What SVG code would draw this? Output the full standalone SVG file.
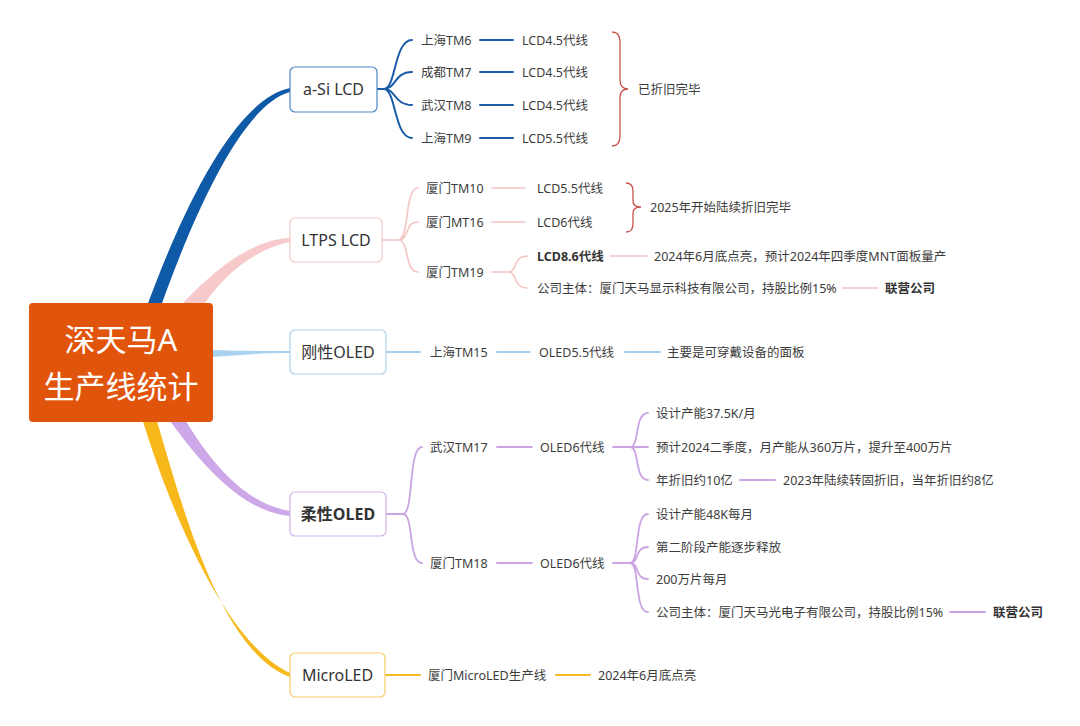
<svg xmlns="http://www.w3.org/2000/svg" width="1080" height="726" viewBox="0 0 1080 726">
<style>
text{font-family:"Noto Sans","Noto Sans CJK SC",sans-serif;fill:#3c3c3c;dominant-baseline:central}
.leaf{font-size:12.5px}
.b{font-weight:bold;fill:#333}
.nt{font-size:16px;text-anchor:middle;fill:#333}
.root{font-size:31px;fill:#fff;text-anchor:middle}
.c{fill:none;stroke-linecap:round}
.blue{stroke:#1A5DA6;stroke-width:2}
.pink{stroke:#F5C4C4;stroke-width:1.6}
.lblue{stroke:#A6CFEF;stroke-width:1.8}
.purple{stroke:#CBA4E4;stroke-width:1.8}
.yellow{stroke:#F6BA22;stroke-width:2}
.brace{fill:none;stroke:#C9524C;stroke-width:1.3}
.node{fill:#fff;stroke-width:1.2}
</style>
<rect width="1080" height="726" fill="#fff"/>
<g id="connectors">
<!-- main tapered branches -->
<path d="M147 306 C175 230 230 100 290 88 L290 92 C240 105 190 225 161 306 Z" fill="#0F5AA6"/>
<path d="M180 306 C205 280 245 240 290 238 L290 242 C250 250 220 280 203 306 Z" fill="#F7C9CA"/>
<path d="M210 350 C240 351 262 351 290 351 L290 353 C262 353 240 355 210 357 Z" fill="#A9D2F1"/>
<path d="M184 418 C215 470 250 505 290 511 L290 516 C245 512 205 470 168 418 Z" fill="#CDA8E8"/>
<path d="M142 418 C165 495 222 642 290 673 L290 677 C218 652 178 490 156 418 Z" fill="#F7B81C"/>
<!-- a-Si LCD -->
<path class="c blue" d="M377 89 H384 M384 89 C396 89 394 40 412 40 M384 89 C396 89 394 72 412 72 M384 89 C396 89 394 105 412 105 M384 89 C396 89 394 138 412 138"/>
<path class="c blue" d="M480 40 H513 M480 72 H513 M480 105 H513 M480 138 H513"/>
<path class="brace" d="M612 32 Q620 32 620 42 L620 80 Q620 89 628 89 Q620 89 620 98 L620 136 Q620 146 612 146"/>
<!-- LTPS LCD -->
<path class="c pink" d="M382 240 H398 M398 240 C410 240 404 188 418 188 M398 240 C410 240 404 222 418 222 M398 240 C410 240 404 272 418 272"/>
<path class="c pink" d="M492 188 H525 M492 222 H525"/>
<path class="c pink" d="M492 272 H508 M508 272 C518 272 512 256 528 256 M508 272 C518 272 512 288 528 288"/>
<path class="c pink" d="M610 256 H647 M843 288 H878"/>
<path class="brace" d="M626 183 Q633 183 633 191 L633 201 Q633 207 641 207 Q633 207 633 213 L633 224 Q633 232 626 232"/>
<!-- rigid OLED -->
<path class="c lblue" d="M386 352 H420 M497 352 H530 M625 352 H660"/>
<!-- flexible OLED -->
<path class="c purple" d="M386 514 H403 M403 514 C414 514 408 447 422 447 M403 514 C414 514 408 563 422 563"/>
<path class="c purple" d="M497 447 H532 M497 563 H532"/>
<path class="c purple" d="M613 447 H630 M630 447 C640 447 634 413 648 413 M630 447 H648 M630 447 C640 447 634 480 648 480"/>
<path class="c purple" d="M613 563 H630 M630 563 C640 563 634 514 648 514 M630 563 C640 563 634 547 648 547 M630 563 C640 563 634 579 648 579 M630 563 C640 563 634 612 648 612"/>
<path class="c purple" d="M740 480 H775 M950 612 H985"/>
<!-- MicroLED -->
<path class="c yellow" d="M385 675 H420 M556 675 H590"/>
</g>
<g id="root">
<rect x="29" y="303" width="184" height="119" rx="4" fill="#E1540B"/>
<text class="root" x="121" y="339">深天马A</text>
<text class="root" x="121" y="386">生产线统计</text>
</g>
<g id="n-asi">
<rect class="node" x="290" y="67" width="87" height="45" rx="5" stroke="#4A86C5"/>
<text class="nt" x="333.5" y="89">a-Si LCD</text>
</g>
<g id="n-ltps">
<rect class="node" x="290" y="218" width="92" height="44" rx="5" stroke="#F5CACA"/>
<text class="nt" x="336" y="240">LTPS LCD</text>
</g>
<g id="n-rigid">
<rect class="node" x="290" y="330" width="96" height="44" rx="5" stroke="#A9D2F1"/>
<text class="nt" x="338" y="352">刚性OLED</text>
</g>
<g id="n-flex">
<rect class="node" x="290" y="492" width="96" height="44" rx="5" stroke="#D2B2EA"/>
<text class="nt b" x="338" y="514">柔性OLED</text>
</g>
<g id="n-micro">
<rect class="node" x="290" y="653" width="95" height="44" rx="5" stroke="#F6CD6A"/>
<text class="nt" x="337.5" y="675">MicroLED</text>
</g>
<g id="asi-items">
<text class="leaf" x="421" y="40">上海TM6</text>
<text class="leaf" x="421" y="72">成都TM7</text>
<text class="leaf" x="421" y="105">武汉TM8</text>
<text class="leaf" x="421" y="138">上海TM9</text>
<text class="leaf" x="522" y="40">LCD4.5代线</text>
<text class="leaf" x="522" y="72">LCD4.5代线</text>
<text class="leaf" x="522" y="105">LCD4.5代线</text>
<text class="leaf" x="522" y="138">LCD5.5代线</text>
<text class="leaf" x="638" y="89">已折旧完毕</text>
</g>
<g id="ltps-items">
<text class="leaf" x="426" y="188">厦门TM10</text>
<text class="leaf" x="426" y="222">厦门MT16</text>
<text class="leaf" x="426" y="272">厦门TM19</text>
<text class="leaf" x="537" y="188">LCD5.5代线</text>
<text class="leaf" x="537" y="222">LCD6代线</text>
<text class="leaf" x="650" y="207">2025年开始陆续折旧完毕</text>
<text class="leaf b" x="537" y="256">LCD8.6代线</text>
<text class="leaf" x="537" y="288">公司主体：厦门天马显示科技有限公司，持股比例15%</text>
<text class="leaf" x="654" y="256">2024年6月底点亮，预计2024年四季度MNT面板量产</text>
<text class="leaf b" x="885" y="288">联营公司</text>
</g>
<g id="rigid-items">
<text class="leaf" x="430" y="352">上海TM15</text>
<text class="leaf" x="539" y="352">OLED5.5代线</text>
<text class="leaf" x="667" y="352">主要是可穿戴设备的面板</text>
</g>
<g id="flex-items">
<text class="leaf" x="430" y="447">武汉TM17</text>
<text class="leaf" x="430" y="563">厦门TM18</text>
<text class="leaf" x="540" y="447">OLED6代线</text>
<text class="leaf" x="540" y="563">OLED6代线</text>
<text class="leaf" x="656" y="413">设计产能37.5K/月</text>
<text class="leaf" x="656" y="447">预计2024二季度，月产能从360万片，提升至400万片</text>
<text class="leaf" x="656" y="480">年折旧约10亿</text>
<text class="leaf" x="783" y="480">2023年陆续转固折旧，当年折旧约8亿</text>
<text class="leaf" x="656" y="514">设计产能48K每月</text>
<text class="leaf" x="656" y="547">第二阶段产能逐步释放</text>
<text class="leaf" x="656" y="579">200万片每月</text>
<text class="leaf" x="656" y="612">公司主体：厦门天马光电子有限公司，持股比例15%</text>
<text class="leaf b" x="993" y="612">联营公司</text>
</g>
<g id="micro-items">
<text class="leaf" x="428" y="675">厦门MicroLED生产线</text>
<text class="leaf" x="598" y="675">2024年6月底点亮</text>
</g>
</svg>
